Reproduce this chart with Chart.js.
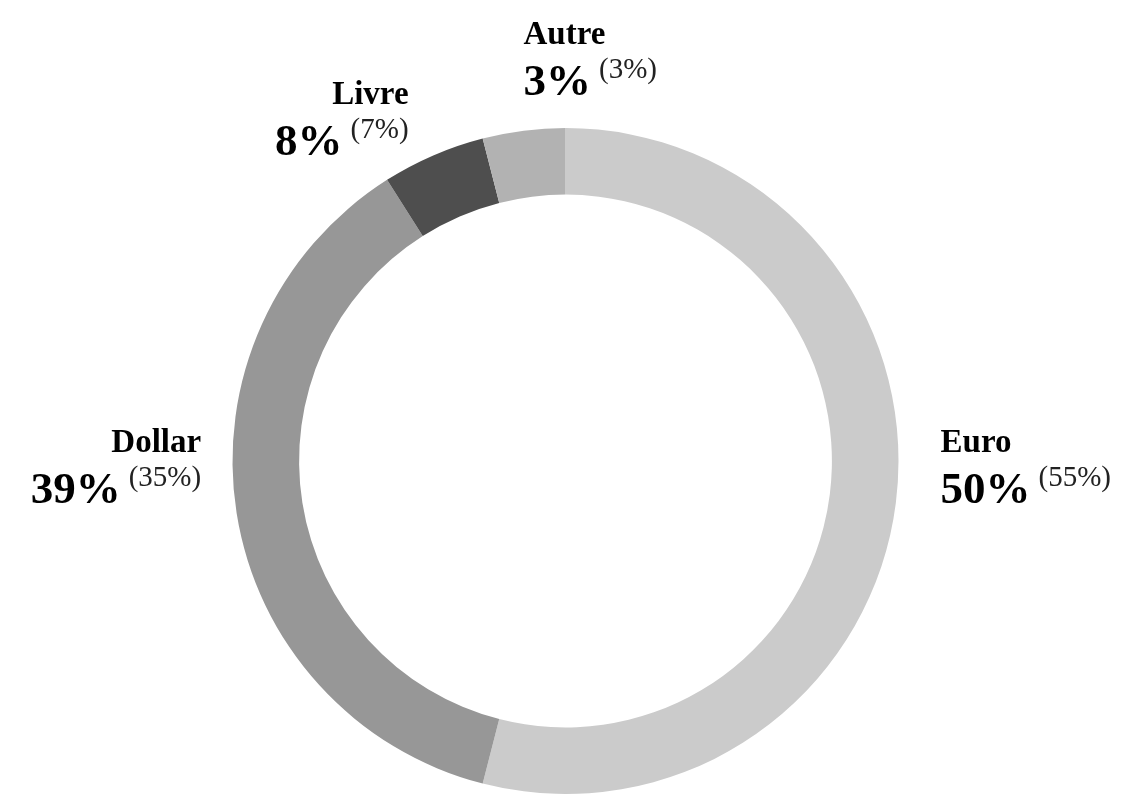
<!DOCTYPE html>
<html lang="fr">
<head>
<meta charset="utf-8">
<title>Répartition par devise</title>
<script src="https://cdn.jsdelivr.net/npm/chart.js"></script>
<style>
    html, body { margin: 0; padding: 0; background: #ffffff; }
    #wrap { width: 1131px; height: 794px; position: relative; }
</style>
</head>
<body>
<div id="wrap"><canvas id="deviseChart"></canvas></div>
<script>
// Données
const devises = ['Euro', 'Dollar', 'Livre', 'Autre'];
// taille des parts (estimée à partir des angles de l'anneau)
const parts = [54, 37, 5, 4];
// libellés affichés
const pourcentages = ['50%', '39%', '8%', '3%'];
const pourcentagesPrec = ['(55%)', '(35%)', '(7%)', '(3%)'];
const couleurs = ['#cbcbcb', '#979797', '#4e4e4e', '#b2b2b2'];

// Plugin pour dessiner les étiquettes autour de l'anneau
const etiquettesPlugin = {
    id: 'etiquettes',
    afterDraw: function(chart, args, opts) {
        const ctx = chart.ctx;
        const arcs = chart.getDatasetMeta(0).data;
        arcs.forEach(function(arc, i) {
            const p = arc.getProps(['x', 'y', 'startAngle', 'endAngle', 'outerRadius'], true);
            const mid = (p.startAngle + p.endAngle) / 2;
            const r = p.outerRadius + opts.gap;
            const nudge = opts.nudges[i];
            const ax = p.x + Math.cos(mid) * r + nudge[0];
            const ay = p.y + Math.sin(mid) * r + nudge[1];
            const align = opts.aligns[i];

            ctx.save();
            ctx.fillStyle = '#000000';
            ctx.textBaseline = 'alphabetic';

            // ligne 1 : nom de la devise
            ctx.font = 'bold 33px "Liberation Serif", serif';
            ctx.textAlign = align;
            ctx.fillText(devises[i], ax, ay - opts.lineGap);

            // ligne 2 : pourcentage + valeur précédente en exposant
            ctx.font = 'bold 45px "Liberation Serif", serif';
            const wBig = ctx.measureText(pourcentages[i]).width;
            ctx.font = '29px "Liberation Serif", serif';
            const wSmall = ctx.measureText(pourcentagesPrec[i]).width;

            let xBig;
            if (align === 'left') {
                xBig = ax;
            } else {
                xBig = ax - wSmall - opts.space - wBig;
            }
            ctx.textAlign = 'left';
            ctx.font = 'bold 45px "Liberation Serif", serif';
            ctx.fillText(pourcentages[i], xBig, ay);
            ctx.font = '29px "Liberation Serif", serif';
            ctx.fillStyle = '#222222';
            ctx.fillText(pourcentagesPrec[i], xBig + wBig + opts.space, ay - 17);
            ctx.restore();
        });
    }
};

const ctx = document.getElementById('deviseChart');
new Chart(ctx.getContext('2d'), {
    type: 'doughnut',
    data: {
        labels: devises,
        datasets: [{
            data: parts,
            backgroundColor: couleurs,
            borderWidth: 0,
            hoverOffset: 0
        }]
    },
    options: {
        responsive: true,
        maintainAspectRatio: false,
        animation: false,
        cutout: '80%',
        layout: {
            padding: { top: 128, bottom: 0, left: 0, right: 0 }
        },
        plugins: {
            legend: { display: false },
            tooltip: { enabled: false },
            etiquettes: {
                gap: 42,
                lineGap: 51,
                space: 8,
                aligns: ['left', 'right', 'right', 'left'],
                nudges: [[3, -5], [6, -17], [-8, 38], [5, 6]]
            }
        }
    },
    plugins: [etiquettesPlugin]
});
</script>
</body>
</html>
